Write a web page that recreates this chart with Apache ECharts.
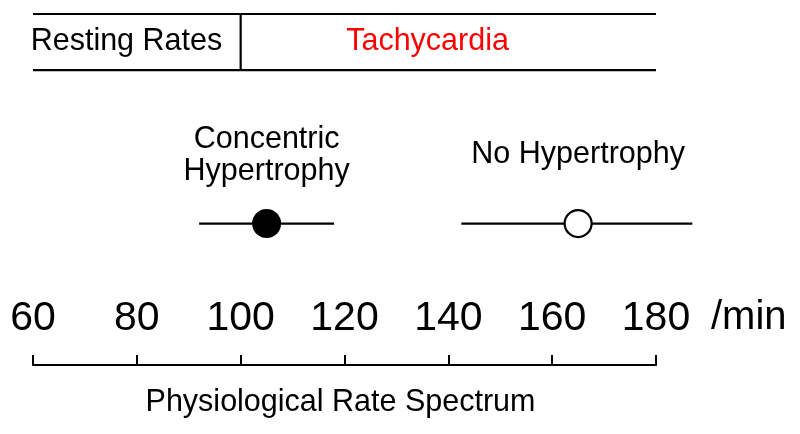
<!DOCTYPE html>
<html>
<head>
<meta charset="utf-8">
<script src="https://cdn.jsdelivr.net/npm/echarts@6/dist/echarts.min.js"></script>
<style>
html,body{margin:0;padding:0;background:#fff;}
#chart{width:800px;height:434px;}
</style>
</head>
<body>
<div id="chart"></div>
<script>
// ---- data ----
const xTicks = [60, 80, 100, 120, 140, 160, 180];
const groups = ['Concentric\nHypertrophy', 'No Hypertrophy'];
const rateMean = [105, 165];
const rateLow = [92, 142.5];
const rateHigh = [118, 187];
const filledMarker = [true, false];
const zoneNames = ['Resting Rates', 'Tachycardia'];
const zoneBounds = [60, 100, 180];
const zoneLabelX = [78, 136];
const zoneColors = ['#000000', '#ff0000'];
const unitLabel = '/min';
const axisTitle = 'Physiological Rate Spectrum';

// ---- layout (vertical levels in hidden y units) ----
const ROW_Y = 40.3;
const BAND_TOP = 100;
const BAND_BOTTOM = 84;
const BAND_MID = 92;
const FONT = "'Liberation Sans', Arial, sans-serif";
const TXT = 30.5;

const chart = echarts.init(document.getElementById('chart'), null, {renderer: 'canvas'});

const option = {
  animation: false,
  backgroundColor: '#ffffff',
  grid: {left: 33, right: 144, top: 14, bottom: 69, containLabel: false},
  xAxis: {
    type: 'value',
    min: xTicks[0],
    max: xTicks[xTicks.length - 1],
    interval: xTicks[1] - xTicks[0],
    position: 'bottom',
    splitLine: {show: false},
    axisLine: {show: true, lineStyle: {color: '#000', width: 2.2}},
    axisTick: {show: true, inside: true, length: 10, lineStyle: {color: '#000', width: 2}},
    axisLabel: {show: true, inside: true, margin: 26, color: '#000', fontSize: 41, fontFamily: FONT},
    name: axisTitle,
    nameLocation: 'middle',
    nameGap: 22,
    nameTextStyle: {color: '#000', fontSize: TXT, fontFamily: FONT, verticalAlign: 'top', padding: [0, 8, 0, 0]}
  },
  yAxis: {
    type: 'value', min: 0, max: 100, show: false
  },
  graphic: [{
    type: 'text',
    left: 711,
    top: 298,
    style: {text: unitLabel, fill: '#000', font: '40px ' + FONT}
  }],
  series: [
    {
      type: 'custom',
      name: 'band',
      clip: false,
      data: zoneNames.map((n, i) => [i]),
      renderItem: function (params, api) {
        const i = api.value(0);
        const x0 = zoneBounds[i], x1 = zoneBounds[i + 1];
        const pTL = api.coord([x0, BAND_TOP]);
        const pTR = api.coord([x1, BAND_TOP]);
        const pBL = api.coord([x0, BAND_BOTTOM]);
        const pBR = api.coord([x1, BAND_BOTTOM]);
        const lbl = api.coord([zoneLabelX[i], BAND_MID]);
        const st = {stroke: '#000', lineWidth: 2.2};
        const children = [
          {type: 'line', shape: {x1: pTL[0], y1: pTL[1], x2: pTR[0], y2: pTR[1]}, style: st},
          {type: 'line', shape: {x1: pBL[0], y1: pBL[1], x2: pBR[0], y2: pBR[1]}, style: st},
          {type: 'text', x: lbl[0], y: lbl[1], style: {text: zoneNames[i], fill: zoneColors[i], font: TXT + 'px ' + FONT, align: 'center', verticalAlign: 'middle'}}
        ];
        if (i > 0) {
          children.push({type: 'line', shape: {x1: pTL[0], y1: pTL[1], x2: pBL[0], y2: pBL[1]}, style: st});
        }
        return {type: 'group', children: children};
      }
    },
    {
      type: 'custom',
      name: 'range',
      clip: false,
      data: groups.map((g, i) => [rateLow[i], rateHigh[i]]),
      renderItem: function (params, api) {
        const a = api.coord([api.value(0), ROW_Y]);
        const b = api.coord([api.value(1), ROW_Y]);
        return {type: 'line', shape: {x1: a[0], y1: a[1], x2: b[0], y2: b[1]}, style: {stroke: '#000', lineWidth: 2.2}};
      }
    },
    {
      type: 'scatter',
      name: 'points',
      clip: false,
      z: 5,
      data: groups.map((g, i) => ({
        value: [rateMean[i], ROW_Y],
        name: g,
        symbolSize: filledMarker[i] ? 29 : 27,
        itemStyle: filledMarker[i]
          ? {color: '#000', borderWidth: 0, opacity: 1}
          : {color: '#fff', borderColor: '#000', borderWidth: 2.2, opacity: 1},
        label: {
          show: true,
          position: 'top',
          distance: filledMarker[i] ? 21 : 38,
          formatter: g,
          color: '#000',
          opacity: 1,
          fontSize: TXT,
          lineHeight: 32,
          fontFamily: FONT,
          align: 'center'
        }
      }))
    }
  ]
};
chart.setOption(option);
</script>
</body>
</html>
